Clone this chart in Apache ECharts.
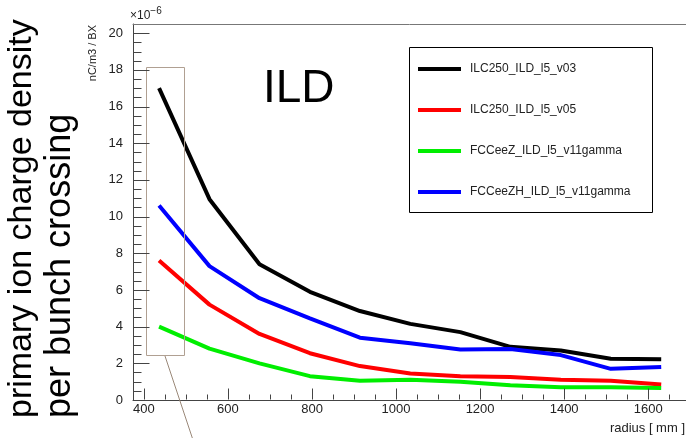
<!DOCTYPE html>
<html>
<head>
<meta charset="utf-8">
<script src="https://cdn.jsdelivr.net/npm/echarts@6/dist/echarts.min.js"></script>
<style>
  html, body { margin: 0; padding: 0; background: #fff; }
  #chart { width: 686px; height: 438px; }
</style>
</head>
<body>
<div id="chart"></div>
<script>
// radius [mm] of each layer
var radius = [436, 556, 675, 795, 914, 1034, 1153, 1272, 1392, 1511, 1631];
// charge density, units of 1e-6 nC/m3 per BX
var ilcV03 = [17.0, 10.95, 7.4, 5.9, 4.85, 4.15, 3.7, 2.9, 2.7, 2.25, 2.22];
var ilcV05 = [7.6, 5.2, 3.6, 2.55, 1.85, 1.45, 1.3, 1.25, 1.1, 1.05, 0.85];
var fccZ = [4.0, 2.8, 2.0, 1.3, 1.05, 1.1, 1.0, 0.8, 0.7, 0.7, 0.65];
var fccZH = [10.6, 7.3, 5.55, 4.45, 3.4, 3.1, 2.75, 2.78, 2.45, 1.7, 1.8];

var xMajor = [400, 600, 800, 1000, 1200, 1400, 1600];
var xMinor = [450, 500, 550, 650, 700, 750, 850, 900, 950, 1050, 1100, 1150,
  1250, 1300, 1350, 1450, 1500, 1550, 1650];
var yMajor = [0, 2, 4, 6, 8, 10, 12, 14, 16, 18, 20];
var yMinor = [0.5, 1, 1.5, 2.5, 3, 3.5, 4.5, 5, 5.5, 6.5, 7, 7.5, 8.5, 9, 9.5, 10.5, 11, 11.5,
  12.5, 13, 13.5, 14.5, 15, 15.5, 16.5, 17, 17.5, 18.5, 19, 19.5];

var names = ['ILC250_ILD_l5_v03', 'ILC250_ILD_l5_v05', 'FCCeeZ_ILD_l5_v11gamma', 'FCCeeZH_ILD_l5_v11gamma'];
var colors = ['#000000', '#ff0000', '#00ee00', '#0000ff'];
var values = [ilcV03, ilcV05, fccZ, fccZH];

function pairs(ys) {
    return radius.map(function (r, i) { return [r, ys[i]]; });
}

var font = 'Liberation Sans, Arial, sans-serif';
var axisCol = '#444';
var X_MIN = 374, X_MAX = 1690, Y_MIN = 0, Y_MAX = 20.5;

// helper category scale in 2 mm steps: carries the x labels
var xSteps = [];
for (var s = X_MIN; s <= X_MAX; s += 2) xSteps.push(String(s));
function isIn(list) {
    return function (i, v) { return list.indexOf(Number(v)) >= 0; };
}

var series = names.map(function (n, k) {
    return {
        name: n,
        type: 'line',
        xAxisIndex: 0,
        yAxisIndex: 0,
        data: pairs(values[k]),
        showSymbol: false,
        symbol: 'none',
        lineStyle: { color: colors[k], width: 4 },
        itemStyle: { color: colors[k] },
        z: 3
    };
});

var graphics = [
    { type: 'rect', shape: { x: 409.5, y: 47.5, width: 243, height: 165 },
      style: { fill: 'none', stroke: '#000', lineWidth: 1 }, z: 1 },
    { type: 'rect', shape: { x: 146.5, y: 67.5, width: 38, height: 288 },
      style: { fill: 'none', stroke: '#b0a092', lineWidth: 1 }, z: 5 },
    { type: 'line', shape: { x1: 165, y1: 356, x2: 193, y2: 440 },
      style: { stroke: '#9a8878', lineWidth: 1 }, z: 5 },
    { type: 'text', x: 263, y: 89,
      style: { text: 'ILD', font: '46px ' + font, fill: '#000', verticalAlign: 'middle' } },
    { type: 'text', x: 130, y: 16,
      style: { text: '×10{s|−6}', font: '12px ' + font, fill: '#222', verticalAlign: 'middle',
               rich: { s: { fontSize: 10, fontFamily: font, verticalAlign: 'bottom', padding: [0, 0, 9, 0] } } } },
    { type: 'text', x: 93, y: 25, rotation: Math.PI / 2,
      style: { text: 'nC/m3 / BX', font: '11px ' + font, fill: '#222', align: 'right', verticalAlign: 'middle' } },
    { type: 'text', x: 22, y: 418, rotation: Math.PI / 2,
      style: { text: 'primary ion charge density', font: '34px ' + font, fill: '#000', align: 'left', verticalAlign: 'middle' } },
    { type: 'text', x: 60, y: 418, rotation: Math.PI / 2,
      style: { text: 'per bunch crossing', font: '36px ' + font, fill: '#000', align: 'left', verticalAlign: 'middle' } },
    { type: 'text', x: 685, y: 428,
      style: { text: 'radius [ mm ]', font: '13px ' + font, fill: '#222', align: 'right', verticalAlign: 'middle' } }
];

var option = {
    animation: false,
    grid: { left: 133, right: 0, top: 24, bottom: 38 },
    legend: {
        left: 418, top: 62, orient: 'vertical', padding: 0,
        itemWidth: 43, itemHeight: 4, itemGap: 27,
        icon: 'rect',
        data: names,
        textStyle: { fontFamily: font, fontSize: 12, color: '#222', lineHeight: 14, padding: [0, 0, 0, 4] }
    },
    xAxis: [{
        type: 'value', min: X_MIN, max: X_MAX, position: 'bottom',
        axisLine: { show: true, onZero: false, lineStyle: { color: axisCol } },
        axisTick: { show: false },
        axisLabel: { show: false },
        splitLine: { show: false }
    }, {
        type: 'category', data: xSteps, boundaryGap: false, position: 'bottom',
        axisLine: { show: false },
        axisTick: { show: false },
        axisLabel: { show: true, interval: isIn(xMajor), fontFamily: font, fontSize: 13, color: '#222', margin: 3 },
        splitLine: { show: false }
    }, {
        // top frame line
        type: 'value', min: X_MIN, max: X_MAX, position: 'top',
        axisLine: { show: true, onZero: false, lineStyle: { color: '#777' } },
        axisTick: { show: false },
        axisLabel: { show: false },
        splitLine: { show: false }
    }],
    yAxis: [{
        type: 'value', min: Y_MIN, max: Y_MAX, interval: 2,
        axisLine: { show: true, lineStyle: { color: axisCol } },
        axisTick: { show: false },
        axisLabel: { showMaxLabel: false, fontFamily: font, fontSize: 13, color: '#222', margin: 10 },
        splitLine: { show: false }
    }],
    series: series,
    graphic: graphics
};

var myChart = echarts.init(document.getElementById('chart'));
myChart.setOption(option);

// ROOT-style ticks pointing into the frame, placed through the chart's own scales
function tickLines() {
    var out = [];
    var y0 = Math.round(myChart.convertToPixel({ yAxisIndex: 0 }, Y_MIN)) - 0.5;
    var x0 = Math.round(myChart.convertToPixel({ xAxisIndex: 0 }, X_MIN)) + 0.5;
    function add(v, onX, len) {
        var shape;
        if (onX) {
            var x = Math.round(myChart.convertToPixel({ xAxisIndex: 0 }, v)) + 0.5;
            shape = { x1: x, y1: y0, x2: x, y2: y0 - len };
        } else {
            var y = Math.round(myChart.convertToPixel({ yAxisIndex: 0 }, v)) + 0.5;
            shape = { x1: x0, y1: y, x2: x0 + len, y2: y };
        }
        out.push({ type: 'line', silent: true, z: 6, shape: shape,
                   style: { stroke: axisCol, lineWidth: 1 } });
    }
    xMajor.forEach(function (v) { add(v, true, 11); });
    xMinor.forEach(function (v) { add(v, true, 5); });
    yMajor.forEach(function (v) { add(v, false, 16); });
    yMinor.forEach(function (v) { add(v, false, 8); });
    return out;
}
myChart.setOption({ graphic: graphics.concat(tickLines()) });
</script>
</body>
</html>
